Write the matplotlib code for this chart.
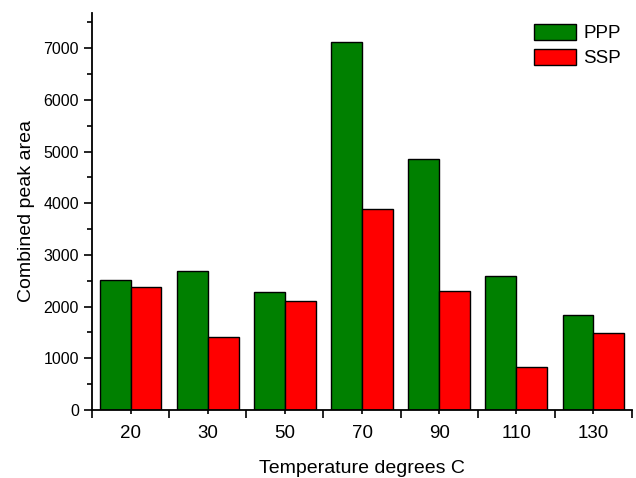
import matplotlib
matplotlib.use("Agg")
import matplotlib.pyplot as plt
import numpy as np
from matplotlib.ticker import MultipleLocator, FixedLocator

plt.rcParams['font.family'] = ['Liberation Sans', 'DejaVu Sans']

categories = ["20", "30", "50", "70", "90", "110", "130"]
ppp = [2515, 2690, 2277, 7118, 4863, 2600, 1838]
ssp = [2380, 1412, 2103, 3896, 2296, 826, 1497]

fig = plt.figure(figsize=(6.36, 4.78), dpi=100)
ax = fig.add_axes([0.1447, 0.1423, 0.849, 0.8305])

x = np.arange(len(categories))
w = 0.4
ax.bar(x - w/2, ppp, width=w, color='#008000', edgecolor='black', linewidth=1.0, label='PPP')
ax.bar(x + w/2, ssp, width=w, color='#FF0000', edgecolor='black', linewidth=1.0, label='SSP')

ax.set_xlim(-0.5, len(categories) - 0.5)
ax.set_ylim(0, 7680)

ax.spines['top'].set_visible(False)
ax.spines['right'].set_visible(False)
ax.spines['left'].set_linewidth(1.3)
ax.spines['bottom'].set_linewidth(1.3)

ax.yaxis.set_major_locator(MultipleLocator(1000))
ax.yaxis.set_minor_locator(MultipleLocator(500))
ax.tick_params(axis='y', which='major', direction='out', length=6, width=1.2, labelsize=11.5)
ax.tick_params(axis='y', which='minor', direction='out', length=3.5, width=1.2)

ax.xaxis.set_major_locator(FixedLocator(np.arange(len(categories) + 1) - 0.5))
ax.xaxis.set_minor_locator(FixedLocator(x))
ax.set_xticklabels([])
ax.set_xticks(x, minor=True)
ax.set_xticklabels(categories, minor=True)
ax.tick_params(axis='x', which='major', direction='out', length=6, width=1.2)
ax.tick_params(axis='x', which='minor', direction='out', length=3, width=1.2, labelsize=13.5, pad=8)

ax.set_xlabel('Temperature degrees C', fontsize=14, labelpad=13)
ax.set_ylabel('Combined peak area', fontsize=14, labelpad=6)

ax.legend(loc='upper right', frameon=False, fontsize=13.5, handlelength=2.25, handleheight=0.9,
          bbox_to_anchor=(1.004, 1.005), handletextpad=0.4, labelspacing=0.35, borderaxespad=0.3)

fig.savefig('out.png', dpi=100)
